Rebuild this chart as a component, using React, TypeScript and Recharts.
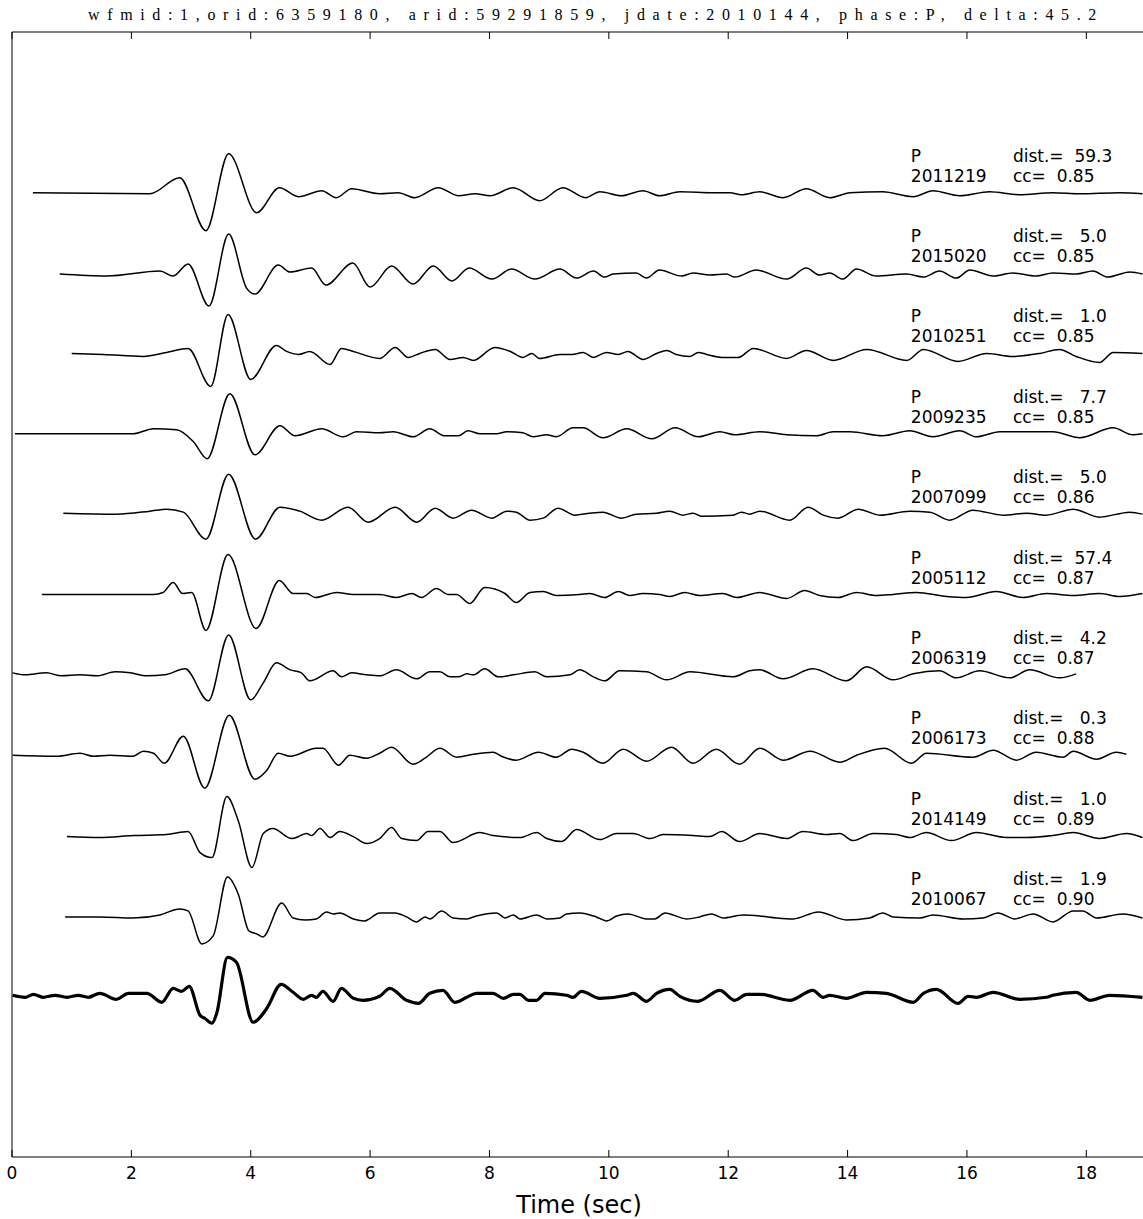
import { ComposedChart, Line, Scatter, XAxis, YAxis, Label, ReferenceLine } from 'recharts';

// amplitude per trace as [time (s), amplitude]
const w2011219: [number, number][] = [
  [0.35, 0], [2.31, -1], [2.81, 15], [3.25, -38], [3.63, 39], [4.1, -20], [4.48, 5], [4.8, -4], [5.19, 2], [5.43, -5],
  [5.69, 4], [6.16, -1], [6.47, 0], [6.75, -5], [7.14, 5], [7.48, -3], [7.76, -1], [8.01, -3], [8.4, 5], [8.84, -8],
  [9.23, 5], [9.61, -5], [9.85, 1], [10.21, -3], [10.57, 2], [10.85, -3], [11.19, 1], [11.75, 0], [12.03, 0], [12.22, -2],
  [12.53, 1], [12.92, -5], [13.31, 4], [13.7, -5], [14.04, 0], [14.59, 1], [15.1, -4], [15.43, 2], [15.88, -3], [16.38, 1],
  [16.88, -2], [17.44, 0], [17.89, -1], [18.56, 0], [18.94, -1],
];
const w2015020: [number, number][] = [
  [0.8, -1], [1.59, -3], [2.48, 2], [2.7, -3], [2.95, 9], [3.3, -33], [3.63, 39], [3.93, -15], [4.07, -21], [4.46, 8],
  [4.66, 1], [5.02, 5], [5.26, -12], [5.71, 10], [6.0, -14], [6.36, 7], [6.72, -11], [7.06, 7], [7.37, -8], [7.66, 5],
  [8.04, -6], [8.37, 4], [8.76, -6], [9.18, 4], [9.46, -5], [9.74, 2], [9.93, -4], [10.07, -1], [10.46, 0], [10.63, -5],
  [10.85, 3], [11.22, -3], [11.41, 0], [11.69, -2], [11.97, -1], [12.11, -4], [12.47, 3], [12.98, -6], [13.31, 5], [13.53, -2],
  [13.7, 0], [13.92, -6], [14.15, 4], [14.48, -3], [14.99, -1], [15.27, -4], [15.54, 2], [15.82, -5], [16.05, 3], [16.44, -3],
  [16.77, 0], [17.16, -3], [17.44, 0], [17.83, -1], [18.11, 2], [18.36, -4], [18.73, 1], [18.94, -1],
];
const w2010251: [number, number][] = [
  [1.0, 0], [1.53, -1], [2.2, -3], [2.59, 1], [2.95, 5], [3.33, -33], [3.62, 39], [4.0, -26], [4.43, 8], [4.6, 2],
  [4.8, -1], [4.99, 2], [5.33, -11], [5.52, 5], [5.72, 2], [6.16, -5], [6.42, 6], [6.64, -4], [6.83, 0], [7.09, 4],
  [7.34, -6], [7.56, -4], [7.73, -7], [8.09, 6], [8.35, 2], [8.56, -4], [8.71, 0], [8.84, -5], [9.18, -1], [9.38, -1],
  [9.57, 1], [9.74, -4], [9.96, 1], [10.16, -1], [10.32, 2], [10.57, -6], [10.8, 0], [10.97, 3], [11.13, -1], [11.36, -3],
  [11.5, 1], [11.64, -1], [11.91, -4], [12.17, -4], [12.42, 5], [12.98, -5], [13.31, 3], [13.76, -7], [14.32, 4], [14.99, -7],
  [15.27, 4], [15.85, -8], [16.33, 0], [16.77, -3], [17.22, 0], [17.55, 4], [17.83, -3], [18.22, -9], [18.45, 1], [18.94, 0],
];
const w2009235: [number, number][] = [
  [0.05, 0], [2.03, 0], [2.37, 5], [2.76, 4], [3.04, -8], [3.27, -25], [3.65, 40], [4.07, -21], [4.49, 8], [4.74, -2],
  [5.19, 5], [5.55, -3], [5.77, 2], [6.16, 1], [6.39, 2], [6.72, -3], [7.0, 5], [7.25, -2], [7.48, -2], [7.64, 3],
  [7.84, 0], [8.12, 0], [8.29, 2], [8.56, 1], [8.73, -3], [8.96, -1], [9.12, -3], [9.4, 6], [9.57, 6], [9.9, -4],
  [10.3, 5], [10.72, -5], [11.11, 6], [11.5, -3], [11.86, 2], [12.11, -1], [12.53, 2], [12.98, -1], [13.48, -2], [13.76, 2],
  [14.04, 2], [14.59, -2], [15.04, 3], [15.43, -3], [15.88, 3], [16.16, -3], [16.55, 2], [17.0, 2], [17.44, 2], [17.89, -4],
  [18.45, 6], [18.78, -1], [18.94, 0],
];
const w2007099: [number, number][] = [
  [0.86, 1], [1.75, 0], [2.31, 3], [2.59, 5], [2.87, 2], [3.25, -25], [3.63, 40], [4.08, -25], [4.49, 7], [4.82, 3],
  [5.19, -6], [5.63, 7], [5.97, -8], [6.42, 7], [6.78, -8], [7.09, 6], [7.39, -4], [7.7, 4], [8.04, -4], [8.29, 3],
  [8.45, 2], [8.68, -6], [8.9, -4], [9.15, 6], [9.43, -1], [9.68, 1], [9.9, 2], [10.21, -4], [10.46, 0], [10.8, 1],
  [11.02, 3], [11.24, -1], [11.41, 1], [11.55, -2], [12.08, -1], [12.22, 2], [12.36, 0], [12.53, 3], [13.03, -6], [13.34, 7],
  [13.59, -1], [13.84, -4], [14.18, 5], [14.54, -1], [15.04, 3], [15.38, 2], [15.71, -6], [16.1, 4], [16.6, -1], [17.0, 1],
  [17.33, -1], [17.78, 5], [18.22, -3], [18.73, 2], [18.94, 0],
];
const w2005112: [number, number][] = [
  [0.5, 0], [1.47, 0], [2.37, 0], [2.53, 2], [2.7, 12], [2.86, 1], [3.01, 2], [3.25, -36], [3.62, 40], [4.09, -34],
  [4.48, 14], [4.71, 1], [4.94, 1], [5.08, -3], [5.44, 2], [5.72, 0], [6.16, 0], [6.44, -3], [6.7, 1], [6.86, -3],
  [7.11, 6], [7.31, 0], [7.45, 0], [7.67, -9], [7.92, 7], [8.26, 1], [8.45, -8], [8.68, 2], [8.9, 3], [9.12, -1],
  [9.51, 0], [9.68, 1], [9.93, -3], [10.16, 3], [10.35, -1], [10.57, 1], [10.85, 0], [11.02, -2], [11.27, 2], [11.52, -1],
  [11.91, 1], [12.14, -3], [12.53, 2], [12.98, -4], [13.28, 4], [13.53, -1], [13.84, -3], [14.15, 2], [14.48, -1], [14.76, 0],
  [15.15, 2], [15.66, -2], [15.99, -3], [16.49, 3], [16.94, -3], [17.33, 1], [17.78, -1], [18.22, 1], [18.56, -2], [18.94, 1],
];
const w2006319: [number, number][] = [
  [0.01, 2], [0.22, 0], [0.58, 2], [0.83, -1], [1.14, 0], [1.42, -1], [1.73, 3], [1.98, 2], [2.26, -1], [2.56, 0],
  [2.9, 6], [3.29, -26], [3.63, 40], [4.0, -25], [4.21, -8], [4.43, 12], [4.66, 5], [4.85, 2], [4.99, -6], [5.38, 4],
  [5.52, -2], [5.69, 2], [5.94, 0], [6.16, -1], [6.44, 5], [6.78, -4], [7.0, 3], [7.17, 3], [7.34, -2], [7.48, -2],
  [7.62, 1], [7.73, 0], [7.92, 6], [8.15, -2], [8.4, 0], [8.76, 3], [8.96, -2], [9.35, 0], [9.51, 5], [9.74, -2],
  [9.93, -6], [10.18, 4], [10.63, 3], [10.97, -5], [11.36, 3], [12.08, -2], [12.36, 4], [12.53, 5], [12.92, -4], [13.42, 6],
  [13.98, -6], [14.32, 8], [14.76, -5], [15.1, 1], [15.54, 4], [15.82, -3], [16.21, 4], [16.72, -3], [17.05, 5], [17.55, -3],
  [17.83, 1],
];
const w2006173: [number, number][] = [
  [0.01, 0], [0.75, -1], [1.14, 2], [1.36, -1], [1.64, 0], [2.03, -1], [2.2, 4], [2.37, 2], [2.55, -8], [2.87, 19],
  [3.23, -33], [3.64, 40], [4.07, -24], [4.27, -15], [4.46, 2], [4.66, -1], [5.1, 7], [5.21, 7], [5.47, -10], [5.66, 0],
  [5.94, -3], [6.16, 2], [6.36, 8], [6.72, -9], [6.92, -3], [7.17, 7], [7.45, -2], [7.73, 1], [8.06, 3], [8.2, -1],
  [8.45, -5], [8.82, 3], [9.12, -2], [9.38, 6], [9.57, 3], [9.9, -8], [10.24, 6], [10.63, -6], [11.05, 8], [11.41, -8],
  [11.8, 6], [12.19, -9], [12.53, 7], [12.92, -5], [13.37, 4], [13.87, -7], [14.15, 0], [14.62, 7], [15.07, -8], [15.32, 2],
  [16.1, -2], [16.44, 5], [16.83, -5], [17.16, 3], [17.61, -2], [17.78, 4], [18.17, -4], [18.5, 3], [18.67, 1],
];
const w2014149: [number, number][] = [
  [0.92, -1], [1.47, -2], [2.03, 0], [2.59, 1], [2.95, 4], [3.15, -17], [3.35, -22], [3.6, 39], [3.79, 15], [4.02, -32],
  [4.21, 2], [4.37, 7], [4.69, -3], [4.94, 2], [5.02, 0], [5.16, 7], [5.33, -2], [5.49, 4], [5.72, -1], [5.94, -8],
  [6.16, -3], [6.36, 8], [6.53, -3], [6.78, -5], [6.97, 4], [7.17, 4], [7.39, -7], [7.84, 3], [8.06, 0], [8.51, -2],
  [8.79, 3], [8.96, -3], [9.21, -6], [9.46, 6], [9.85, -4], [10.13, 2], [10.41, 2], [10.69, -3], [10.91, 1], [11.41, 0],
  [11.69, -1], [11.89, 4], [12.19, -6], [12.53, 2], [12.98, -3], [13.25, 4], [13.65, 1], [13.87, 2], [14.09, -5], [14.43, 2],
  [14.82, 1], [15.04, -2], [15.32, 3], [15.74, -5], [16.16, 3], [16.66, -2], [17.0, -2], [17.44, 0], [17.78, 3], [18.22, -3],
  [18.67, 2], [18.94, -2],
];
const w2010067: [number, number][] = [
  [0.89, -1], [1.47, -1], [2.03, -2], [2.48, 1], [2.81, 7], [2.95, 5], [3.18, -28], [3.37, -20], [3.61, 39], [3.79, 22],
  [3.97, -15], [4.1, -18], [4.2, -21], [4.52, 13], [4.71, -2], [4.91, -4], [5.1, -3], [5.27, 4], [5.38, 2], [5.49, 3],
  [5.72, -3], [5.91, -5], [6.16, 3], [6.42, 3], [6.61, -1], [6.78, -6], [6.92, -1], [7.0, -3], [7.2, 5], [7.39, -2],
  [7.62, -3], [7.78, 0], [8.12, 3], [8.26, -2], [8.4, 1], [8.51, -3], [8.79, 1], [8.96, -3], [9.18, -2], [9.29, 2],
  [9.51, 3], [9.79, -1], [9.96, -5], [10.13, 0], [10.32, 2], [10.63, -3], [10.77, -3], [10.94, 3], [11.3, -3], [11.52, -1],
  [11.72, 2], [11.91, -2], [12.25, 1], [12.53, 0], [12.81, -2], [13.09, -3], [13.51, 4], [13.98, -4], [14.37, -2], [14.59, 3],
  [14.76, -1], [15.21, -2], [15.43, 1], [15.94, -3], [16.27, -2], [16.52, 3], [16.8, -3], [17.11, 2], [17.44, -6], [17.78, 5],
  [17.94, 5], [18.17, -2], [18.61, 2], [18.94, -2],
];
const wStack: [number, number][] = [
  [0.01, 1], [0.22, -1], [0.36, 2], [0.52, -1], [0.72, 1], [0.92, -1], [1.11, 1], [1.28, -1], [1.47, 3], [1.75, -3],
  [1.95, 3], [2.26, 3], [2.51, -6], [2.7, 8], [2.84, 5], [2.97, 10], [3.15, -19], [3.23, -22], [3.35, -27], [3.43, -17],
  [3.61, 39], [3.76, 34], [4.04, -26], [4.27, -12], [4.51, 12], [4.71, 4], [4.88, -3], [5.02, 1], [5.1, -1], [5.21, 5],
  [5.38, -5], [5.52, 8], [5.72, -2], [5.88, -4], [6.16, 0], [6.33, 8], [6.61, -4], [6.81, -7], [7.0, 3], [7.22, 6],
  [7.42, -6], [7.62, -1], [7.78, 3], [8.06, 3], [8.23, -2], [8.4, 2], [8.51, 2], [8.65, -4], [8.79, -4], [8.93, 3],
  [9.29, 1], [9.4, -1], [9.54, 5], [9.85, -2], [10.3, 1], [10.41, 3], [10.63, -5], [10.8, 3], [11.02, 7], [11.19, 0],
  [11.49, -5], [11.86, 6], [12.11, -4], [12.31, 2], [12.53, 2], [13.03, -4], [13.42, 6], [13.59, -1], [13.7, 1], [13.98, -2],
  [14.32, 4], [14.65, 3], [15.1, -6], [15.27, 3], [15.49, 7], [15.85, -7], [16.02, 0], [16.16, -1], [16.44, 4], [16.88, -3],
  [17.33, -1], [17.44, 1], [17.83, 4], [18.06, -4], [18.39, 1], [18.94, -1],
];

const EVENTS = ['2011219', '2015020', '2010251', '2009235', '2007099', '2005112', '2006319', '2006173', '2014149', '2010067'];
const DISTS = [59.3, 5.0, 1.0, 7.7, 5.0, 57.4, 4.2, 0.3, 1.0, 1.9];
const CCS = [0.85, 0.85, 0.85, 0.85, 0.86, 0.87, 0.87, 0.88, 0.89, 0.9];
const PHASE = 'P';
const TITLE = 'wfmid:1,orid:6359180, arid:59291859, jdate:2010144, phase:P, delta:45.2';
const X_TICKS = [0, 2, 4, 6, 8, 10, 12, 14, 16, 18];

const TRACES = [w2011219, w2015020, w2010251, w2009235, w2007099, w2005112, w2006319, w2006173, w2014149, w2010067, wStack];

const GAP = 80.4; // vertical spacing between traces, in amplitude units
const TOP = 14 * GAP;
const TICK_LEN = 7;
const LABEL_T = 15.06;
const INFO_T = 16.77;
const FONT = '"DejaVu Sans", sans-serif';

const baseOf = (i: number) => (12 - i) * GAP;
const series = TRACES.map((pts, i) => pts.map(([t, a]) => ({ t, y: baseOf(i) + a })));
const leftLabels = EVENTS.map((ev, i) => ({ t: LABEL_T, y: baseOf(i), top: PHASE, bottom: ev }));
const rightLabels = EVENTS.map((_, i) => ({
  t: INFO_T,
  y: baseOf(i),
  top: `dist.=${DISTS[i].toFixed(1).padStart(6, ' ')}`,
  bottom: `cc=${CCS[i].toFixed(2).padStart(6, ' ')}`,
}));

const LabelShape = (props: any) => {
  const { cx, cy, payload } = props;
  return (
    <g>
      <text x={cx} y={cy - 31} fontSize={17} fontFamily={FONT} fill="#000" style={{ whiteSpace: 'pre' }}>
        {payload.top}
      </text>
      <text x={cx} y={cy - 11} fontSize={17} fontFamily={FONT} fill="#000" style={{ whiteSpace: 'pre' }}>
        {payload.bottom}
      </text>
    </g>
  );
};

const BottomTick = (props: any) => {
  const { x, y, payload } = props;
  return (
    <text x={x} y={y + 22} textAnchor="middle" fontSize={17} fontFamily={FONT} fill="#000">
      {payload.value}
    </text>
  );
};

export default function App() {
  return (
    <div style={{ position: 'absolute', left: 0, top: 0, width: 1143, height: 1219, overflow: 'hidden', background: '#fff' }}>
      <div
        style={{
          position: 'absolute',
          left: 88,
          top: 6,
          fontFamily: '"Liberation Serif", serif',
          fontSize: 16,
          letterSpacing: 7.65,
          whiteSpace: 'pre',
          color: '#000',
        }}
      >
        {TITLE}
      </div>
      <ComposedChart width={1160} height={1219} margin={{ top: 32, right: 14, bottom: 0, left: 12 }}>
        <XAxis
          dataKey="t"
          type="number"
          domain={[0, 19]}
          ticks={X_TICKS}
          height={62}
          tickSize={0}
          tickMargin={0}
          axisLine={{ stroke: '#000' }}
          tickLine={false}
          tick={<BottomTick />}
          interval={0}
        >
          <Label value="Time (sec)" position="insideBottom" offset={6} fontSize={24} fontFamily={FONT} fill="#000" />
        </XAxis>
        <YAxis dataKey="y" type="number" domain={[0, TOP]} hide />
        {/* frame: left and top spines, inward ticks on top and bottom */}
        <ReferenceLine x={0} stroke="#000" />
        <ReferenceLine y={TOP} stroke="#000" />
        {X_TICKS.map((v) => (
          <ReferenceLine key={`b${v}`} segment={[{ x: v, y: 0 }, { x: v, y: TICK_LEN }]} stroke="#000" />
        ))}
        {X_TICKS.map((v) => (
          <ReferenceLine key={`t${v}`} segment={[{ x: v, y: TOP }, { x: v, y: TOP - TICK_LEN }]} stroke="#000" />
        ))}
        {series.map((d, i) => (
          <Line
            key={i}
            name={i < EVENTS.length ? EVENTS[i] : 'stack'}
            data={d}
            dataKey="y"
            type="monotone"
            stroke="#000"
            strokeWidth={i === TRACES.length - 1 ? 3.2 : 1.5}
            dot={false}
            activeDot={false}
            isAnimationActive={false}
          />
        ))}
        <Scatter data={leftLabels} dataKey="y" shape={<LabelShape />} isAnimationActive={false} />
        <Scatter data={rightLabels} dataKey="y" shape={<LabelShape />} isAnimationActive={false} />
      </ComposedChart>
    </div>
  );
}
